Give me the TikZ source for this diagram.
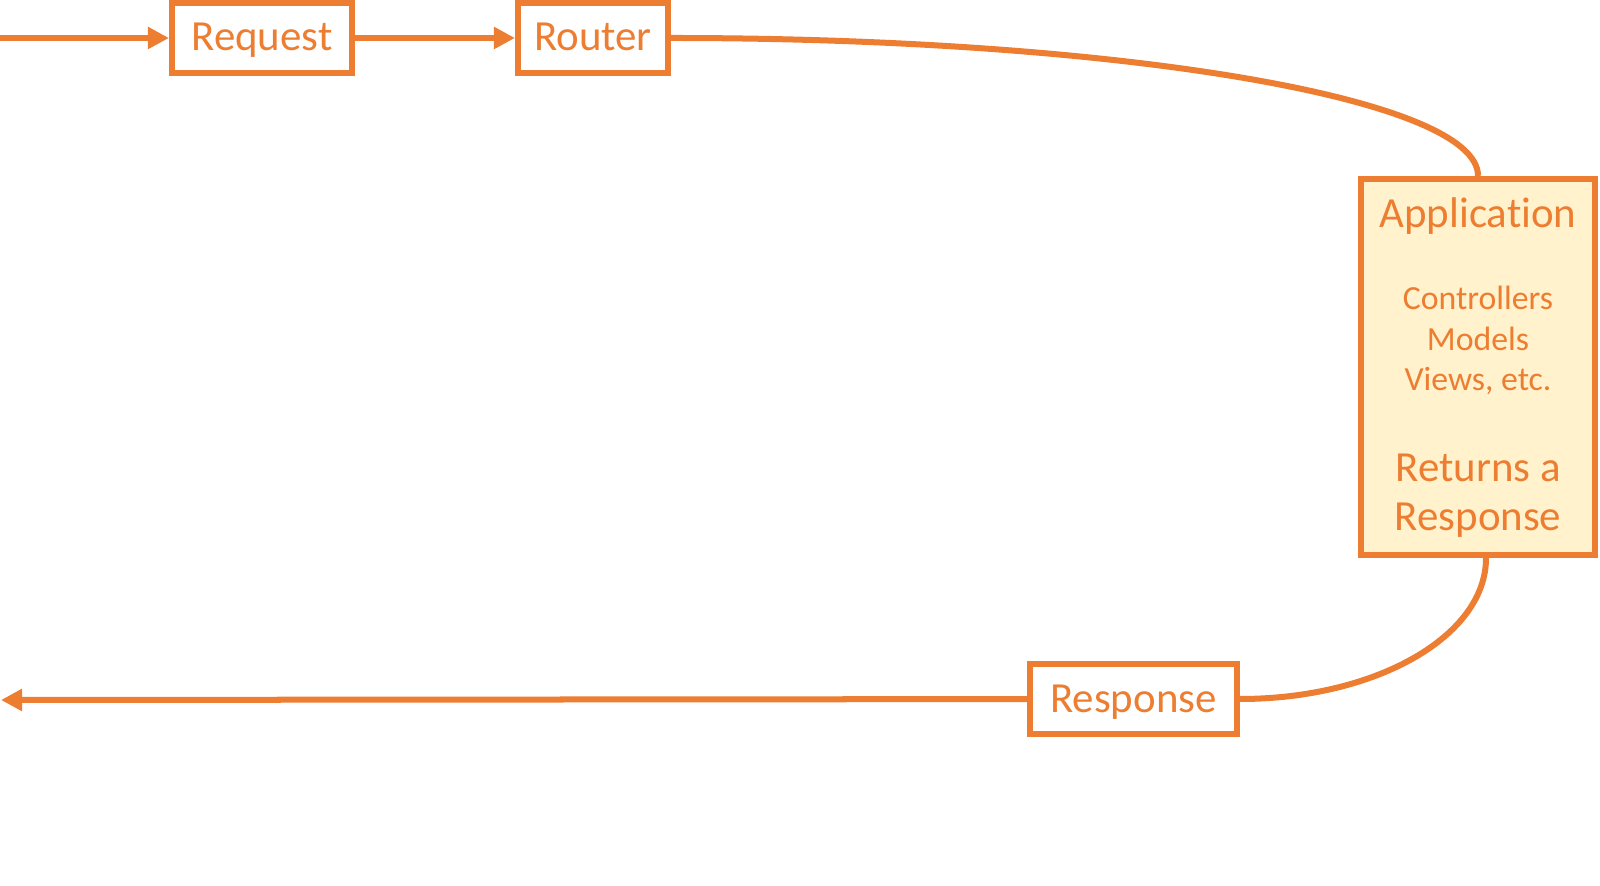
\documentclass[tikz,border=0pt]{standalone}
\usepackage{fontspec}
\setmainfont{Carlito}[Ligatures=CommonOff]
\usetikzlibrary{arrows.meta}
\definecolor{accent}{HTML}{ED7D31}
\definecolor{appfill}{HTML}{FFF2CC}
\tikzset{
  box/.style={draw=accent, line width=0.06cm, fill=white, inner sep=0pt, text=accent,
    font=\fontsize{12.2}{14.5}\selectfont, text height=0.26cm, text depth=0pt},
  flow/.style={draw=accent, line width=0.06cm},
  tip/.style={-{Triangle[length=0.21cm,width=0.21cm]}},
  lbl/.style={text=accent, anchor=base, inner sep=0pt, font=\fontsize{12.2}{14.5}\selectfont},
  smalllbl/.style={lbl, font=\fontsize{9.6}{11.5}\selectfont},
}
\begin{document}
\begin{tikzpicture}[x=0.01cm,y=-0.01cm]
\useasboundingbox (0,0) rectangle (1600,886);
\node[box, minimum width=1.80cm, minimum height=0.70cm] (request) at (262,38) {Request};
\node[box, minimum width=1.50cm, minimum height=0.70cm] (router) at (593,38) {Router};
\node[box, minimum width=2.34cm, minimum height=3.76cm, fill=appfill] (app) at (1478,367) {};
\node[box, minimum width=2.07cm, minimum height=0.70cm] (response) at (1133.5,699) {Response};
% text inside the application box
\node[lbl] (apptitle) at (1478,228) {Application};
\foreach \txt/\y [count=\i] in {Controllers/310, Models/351, {Views, etc.}/391}
  \node[smalllbl] (part\i) at (1478,\y) {\txt};
\node[lbl] (ret1) at (1478,482) {Returns a};
\node[lbl] (ret2) at (1478,531) {Response};
\coordinate (entry) at (0,38);
\coordinate (exit) at (1,700);
\draw[flow, tip] (entry) -- (request);
\draw[flow, tip] (request) -- (router);
\draw[flow] (router.east) .. controls +(447,0) and +(0,-78) .. (app.north);
\draw[flow] ([xshift=0.08cm]app.south) .. controls +(0,78) and +(136,0) .. (response.east);
\draw[flow, tip] (response) -- (exit);
\end{tikzpicture}
\end{document}
